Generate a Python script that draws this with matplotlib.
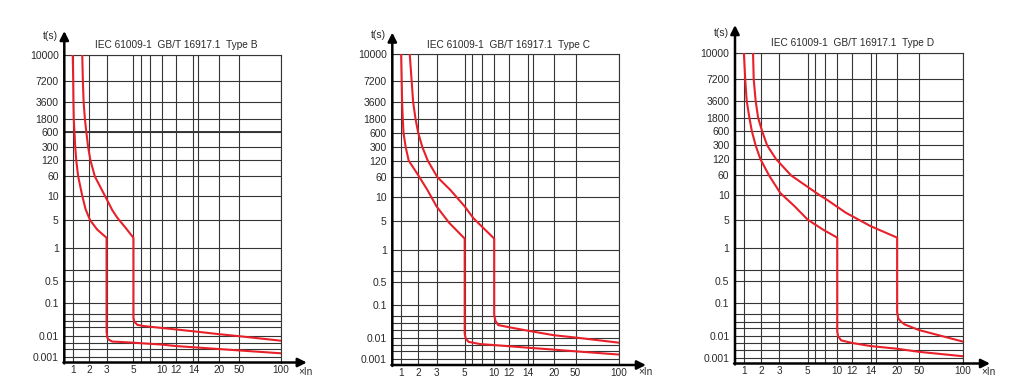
import numpy as np
import matplotlib
matplotlib.use("Agg")
import matplotlib.pyplot as plt
from matplotlib.ticker import FixedLocator, FixedFormatter, NullFormatter

plt.rcParams['font.family'] = ['Liberation Sans', 'DejaVu Sans']

# ---------------- data ----------------
x_ticks = [1, 2, 3, 5, 10, 12, 14, 20, 50, 100]
x_tick_labels = ['1', '2', '3', '5', '10', '12', '14', '20', '50', '100']
x_minor = [6, 7.5, 15]

t_ticks = [0.001, 0.01, 0.1, 0.5, 1, 5, 10, 60, 120, 300, 600, 1800, 3600, 7200, 10000]
t_tick_labels = ['0.001', '0.01', '0.1', '0.5', '1', '5', '10', '60', '120', '300',
                 '600', '1800', '3600', '7200', '10000']
t_minor = [0.63, 0.0462, 0.0281, 0.0179, 0.0048, 0.00246]

titles = ['IEC 61009-1  GB/T 16917.1  Type B',
          'IEC 61009-1  GB/T 16917.1  Type C',
          'IEC 61009-1  GB/T 16917.1  Type D']

b_lower_x = [1.0, 1.02, 1.03, 1.045, 1.076, 1.11, 1.16, 1.26, 1.5, 1.73, 2.05, 2.42, 3.0,
             3.0, 3.04, 3.13, 3.35, 3.68, 5, 10, 12, 14, 20, 50, 100]
b_lower_t = [10000, 7200, 3600, 1800, 600, 300, 120, 60, 10, 6.81, 5.0, 2.91, 1.83,
             0.0134, 0.0083, 0.0065, 0.0053, 0.0052, 0.0047, 0.00384, 0.00327, 0.00287,
             0.00237, 0.00203, 0.00149]
b_upper_x = [1.5, 1.54, 1.59, 1.68, 1.79, 1.92, 2.065, 2.29, 2.89, 3.35, 3.68, 4.32, 5.0,
             5.0, 5.1, 5.51, 6.46, 10, 12, 14, 20, 50, 100]
b_upper_t = [10000, 7200, 3600, 1800, 600, 300, 120, 60, 10, 6.62, 5.35, 3.2, 1.83,
             0.0355, 0.027, 0.0214, 0.0197, 0.01726, 0.01556, 0.01365, 0.0112, 0.0095,
             0.00583]

c_lower_x = [1.0, 1.04, 1.07, 1.10, 1.2, 1.36, 2.0, 2.45, 3.0, 3.77, 5.0, 5.0, 5.12,
             5.47, 7.18, 10, 12, 14, 20, 50, 100]
c_lower_t = [10000, 3600, 1800, 600, 300, 120, 65, 18.5, 7.58, 4.56, 1.87, 0.0136,
             0.0095, 0.0066, 0.0052, 0.00466, 0.00411, 0.00352, 0.00286, 0.00238, 0.00168]
c_upper_x = [1.42, 1.63, 1.80, 2.0, 2.19, 2.47, 3.04, 3.85, 5.0, 6.14, 10, 10, 10.16,
             10.51, 12.08, 14, 20, 50, 100]
c_upper_t = [10000, 3600, 1800, 600, 300, 120, 60, 18.5, 7.58, 5.43, 1.87, 0.0494,
             0.0324, 0.0244, 0.0208, 0.0166, 0.0121, 0.0103, 0.0060]

d_lower_x = [1.0, 1.055, 1.12, 1.25, 1.38, 1.61, 1.95, 2.39, 3.05, 3.93, 5.0, 7.12, 10,
             10, 10.1, 10.48, 12, 14, 20, 50, 100]
d_lower_t = [10000, 7200, 3600, 1800, 600, 300, 120, 60, 12, 7.34, 5.0, 2.87, 1.81,
             0.0142, 0.0102, 0.00658, 0.00496, 0.00356, 0.00268, 0.00192, 0.0012]
d_upper_x = [1.45, 1.49, 1.61, 1.78, 2.05, 2.29, 2.78, 3.71, 6.59, 7.7, 11.1, 14, 20, 20,
             21.0, 23.7, 27.4, 50, 100]
d_upper_t = [10000, 7200, 3600, 1800, 600, 300, 120, 60, 10, 8.9, 6.07, 3.45, 1.81,
             0.0543, 0.0346, 0.0276, 0.023, 0.0156, 0.0058]

curves = [((b_lower_x, b_lower_t), (b_upper_x, b_upper_t)),
          ((c_lower_x, c_lower_t), (c_upper_x, c_upper_t)),
          ((d_lower_x, d_lower_t), (d_upper_x, d_upper_t))]

# ------------- schematic (non-uniform) axis layout of the original -------------
X_AXIS_POS = [39, 114, 195, 319, 449, 515, 596, 712, 808, 1000]      # per-mille of width
T_AXIS_POS = [18, 87, 194, 266, 371, 463, 542, 605, 658, 702, 748, 791, 846, 915, 1000]


def make_scale(values, pos):
    lv = np.log10(np.asarray(values, float))
    p = np.asarray(pos, float)
    s0 = (p[1] - p[0]) / (lv[1] - lv[0])
    s1 = (p[-1] - p[-2]) / (lv[-1] - lv[-2])
    lv_e = np.concatenate([[lv[0] - 20], lv, [lv[-1] + 20]])
    p_e = np.concatenate([[p[0] - 20 * s0], p, [p[-1] + 20 * s1]])

    def fwd(v):
        v = np.asarray(v, float)
        return np.interp(np.log10(np.clip(v, 1e-25, None)), lv_e, p_e)

    def inv(q):
        return 10 ** np.interp(np.asarray(q, float), p_e, lv_e)
    return fwd, inv


xf, xi = make_scale(x_ticks, X_AXIS_POS)
tf, ti = make_scale(t_ticks, T_AXIS_POS)

# panel geometry in pixels: left, bottom(y from top), width, height
PANELS = [(64.3, 362.5, 216.7, 307.5),
          (392.3, 365.0, 226.9, 310.7),
          (735.0, 363.5, 227.7, 310.8)]
Y_TIP = [1.078, 1.07, 1.089]
X_TIP = [1.119, 1.118, 1.12]
TITLE_X = [0.515, 0.51, 0.516]
XIN_Y = [-0.031, -0.021, -0.027]

W, H = 1027, 377
fig = plt.figure(figsize=(W / 100, H / 100), dpi=100)

RED = '#e8202a'
GRID = '#353535'
TXT = '#2a2a2a'

for k, (l, b, w, h) in enumerate(PANELS):
    ax = fig.add_axes([l / W, (H - b) / H, w / W, h / H])
    ax.set_xscale('function', functions=(xf, xi))
    ax.set_yscale('function', functions=(tf, ti))
    ax.set_xlim(float(xi(0.0)), 100)
    ax.set_ylim(float(ti(0.0)), 10000)

    ax.xaxis.set_major_locator(FixedLocator(x_ticks))
    ax.xaxis.set_major_formatter(FixedFormatter(x_tick_labels))
    ax.xaxis.set_minor_locator(FixedLocator(x_minor))
    ax.xaxis.set_minor_formatter(NullFormatter())
    ax.yaxis.set_major_locator(FixedLocator(t_ticks))
    ax.yaxis.set_major_formatter(FixedFormatter(t_tick_labels))
    ax.yaxis.set_minor_locator(FixedLocator(t_minor))
    ax.yaxis.set_minor_formatter(NullFormatter())

    ax.tick_params(which='both', length=0, labelsize=7.5, labelcolor=TXT)
    ax.tick_params(axis='y', pad=4)
    ax.tick_params(axis='x', pad=2, labelsize=7.2)
    ax.grid(True, which='both', color=GRID, lw=0.8)
    if k == 0:
        ax.axhline(600, color='black', lw=1.1, zorder=1.5)

    for side in ('left', 'bottom'):
        ax.spines[side].set_visible(False)
    for side in ('top', 'right'):
        ax.spines[side].set_color(GRID)
        ax.spines[side].set_linewidth(0.8)

    for cx, ct in curves[k]:
        ax.plot(cx, ct, color=RED, lw=1.5, solid_joinstyle='round', zorder=3)

    # axis arrows
    ap = dict(arrowstyle='-|>', color='black', lw=1.8, mutation_scale=13,
              shrinkA=0, shrinkB=0)
    ax.annotate('', xy=(0, Y_TIP[k]), xytext=(0, -0.003), xycoords='axes fraction',
                arrowprops=ap, annotation_clip=False)
    ax.annotate('', xy=(X_TIP[k], 0), xytext=(-0.004, 0), xycoords='axes fraction',
                arrowprops=ap, annotation_clip=False)

    ax.text(-0.028, 1.062, 't(s)', transform=ax.transAxes, ha='right', va='center',
            fontsize=7.5, color=TXT)
    ax.text(1.115, XIN_Y[k], '×In', transform=ax.transAxes, ha='center', va='center',
            fontsize=7.2, color=TXT)
    ax.text(TITLE_X[k], 1.031, titles[k], transform=ax.transAxes, ha='center',
            va='center', fontsize=7.3, color=TXT)

fig.savefig('out.png', dpi=100)
